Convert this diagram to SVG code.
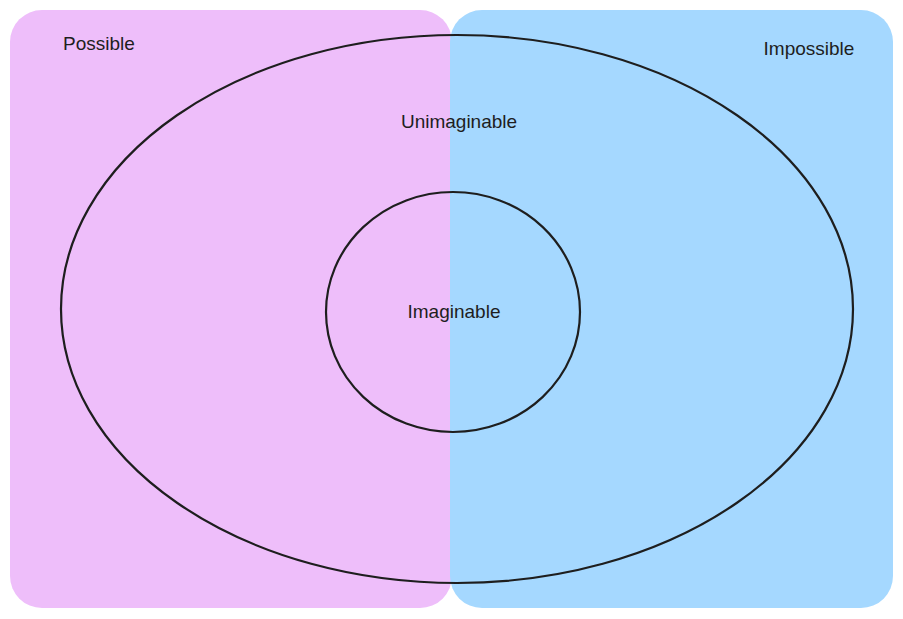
<svg xmlns="http://www.w3.org/2000/svg" width="903" height="619" viewBox="0 0 903 619">
<style>
.lbl{font-family:"Liberation Sans",Arial,sans-serif;font-size:19px;fill:#1e1e1e;text-anchor:middle}
.ring{fill:none;stroke:#1e1e1e;stroke-width:2.2}
</style>
<rect width="903" height="619" fill="#ffffff"/>
<g id="possible">
<rect x="10" y="10" width="442" height="598" rx="32" fill="#eebefa"/>
<text class="lbl" x="99" y="50">Possible</text>
</g>
<g id="impossible">
<rect x="450" y="10" width="443" height="598" rx="32" fill="#a5d8ff"/>
<text class="lbl" x="809" y="55">Impossible</text>
</g>
<g id="unimaginable">
<ellipse class="ring" cx="457" cy="309" rx="396" ry="274"/>
<text class="lbl" x="459" y="128">Unimaginable</text>
</g>
<g id="imaginable">
<ellipse class="ring" cx="453" cy="312" rx="127" ry="120"/>
<text class="lbl" x="454" y="318">Imaginable</text>
</g>
<g id="connectors"></g>
</svg>
